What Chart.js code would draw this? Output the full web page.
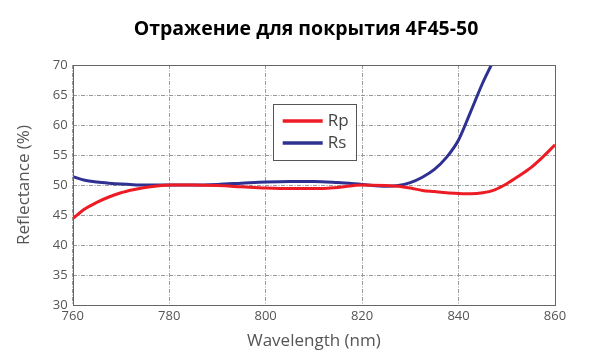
<!DOCTYPE html>
<html><head><meta charset="utf-8">
<script src="https://cdn.jsdelivr.net/npm/chart.js@4"></script>
<style>html,body{margin:0;padding:0;background:#fff}#wrap{width:600px;height:355px;position:relative}</style>
</head><body><div id="wrap"><canvas id="c" width="600" height="355"></canvas></div>
<script>
const title = "Отражение для покрытия 4F45-50";
const xTitle = "Wavelength (nm)";
const yTitle = "Reflectance (%)";
const wavelengths = [760,762.5,765,767.5,770,772.5,775,777.5,780,785,790,795,800,805,810,815,820,825,827.5,830,832.5,835,837.5,840,842.5,845,847.5,850,852.5,855,857.5,860];
const rp = [44.4,46.0,47.1,48.0,48.7,49.2,49.6,49.85,50.0,50.0,49.9,49.7,49.5,49.4,49.4,49.6,50.0,49.9,49.8,49.5,49.1,48.9,48.7,48.6,48.55,48.7,49.2,50.2,51.5,52.9,54.7,56.7];
const rs = [51.4,50.8,50.5,50.3,50.15,50.05,50.0,50.0,50.0,50.0,50.1,50.3,50.5,50.6,50.6,50.4,50.1,49.8,49.9,50.4,51.3,52.6,54.6,57.5,62.2,67.0,71.2,76.0,null,null,null,null];
const seriesNames = ["Rp","Rs"];
const xTicks = [760,780,800,820,840,860];
const yTicks = [30,35,40,45,50,55,60,65,70];

const toPts = arr => wavelengths.map((w,i)=>({x:w,y:arr[i]}));

const frameLegend = {
  id:'frameLegend',
  afterDraw(chart){
    const ctx = chart.ctx, a = chart.chartArea;
    ctx.save();
    ctx.strokeStyle = '#666'; ctx.lineWidth = 1;
    ctx.strokeRect(Math.round(a.left)+0.5, Math.round(a.top)+0.5, Math.round(a.right-a.left), Math.round(a.bottom-a.top));
    // legend
    const lx = a.left + 200, ly = a.top + 39, lw = 83, lh = 56;
    ctx.fillStyle = '#fff'; ctx.fillRect(lx, ly, lw, lh);
    ctx.strokeStyle = '#555'; ctx.strokeRect(Math.round(lx)+0.5, Math.round(ly)+0.5, lw, lh);
    chart.data.datasets.forEach((ds,i)=>{
      const y = ly + 17 + i*22;
      ctx.strokeStyle = ds.borderColor; ctx.lineWidth = 3.5;
      ctx.beginPath(); ctx.moveTo(lx+10, y); ctx.lineTo(lx+50, y); ctx.stroke();
      ctx.fillStyle = '#444'; ctx.font = '17px "Open Sans"'; ctx.textBaseline = 'middle'; ctx.textAlign='left';
      ctx.fillText(ds.label, lx+55, y);
    });
    // title
    ctx.fillStyle = '#000'; ctx.font = 'bold 19.5px "Open Sans"'; ctx.textAlign = 'center'; ctx.textBaseline='middle';
    ctx.fillText(title, 306, 29);
    ctx.restore();
  }
};

new Chart(document.getElementById('c'), {
  type:'line',
  data:{datasets:[
    {label:seriesNames[0], data:toPts(rp), borderColor:'#ED1C24', borderWidth:3, pointRadius:0, cubicInterpolationMode:'monotone', fill:false},
    {label:seriesNames[1], data:toPts(rs), borderColor:'#2E3192', borderWidth:3, pointRadius:0, cubicInterpolationMode:'monotone', fill:false}
  ]},
  options:{
    responsive:false, animation:false,
    layout:{padding:{left:14,right:45,top:65,bottom:4}},
    plugins:{legend:{display:false}, title:{display:false}, tooltip:{enabled:false}},
    scales:{
      x:{type:'linear', min:760, max:860,
        afterBuildTicks(s){ s.ticks = xTicks.map(v=>({value:v})); },
        afterFit(s){ s.height = 46; },
        grid:{color:'#999', lineWidth:1, drawTicks:false},
        border:{display:false, dash:[4,1.5,1,1.5]},
        ticks:{color:'#555', font:{family:'"Open Sans"', size:13}, padding:3, maxRotation:0},
        title:{display:true, text:xTitle, color:'#555', font:{family:'"Open Sans"', size:17}, padding:{top:0,bottom:0}}
      },
      y:{type:'linear', min:30, max:70,
        afterBuildTicks(s){ s.ticks = yTicks.map(v=>({value:v})); },
        afterFit(s){ s.width = 58.7; },
        grid:{color:'#999', lineWidth:1, drawTicks:false},
        border:{display:false, dash:[4,1.5,1,1.5]},
        ticks:{color:'#555', font:{family:'"Open Sans"', size:13}, padding:5},
        title:{display:true, text:yTitle, color:'#555', font:{family:'"Open Sans"', size:17}, padding:{top:0,bottom:0}}
      }
    }
  },
  plugins:[frameLegend]
});
</script></body></html>
